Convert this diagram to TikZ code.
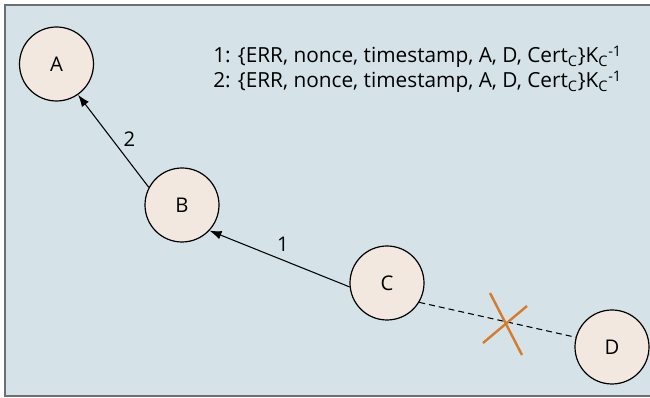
\documentclass[tikz,border=0pt]{standalone}
\usepackage{fontspec}
\setmainfont{Open Sans}
\usetikzlibrary{arrows.meta}
\definecolor{panelbg}{HTML}{D5E3E8}
\definecolor{nodefill}{HTML}{F2E8DF}
\definecolor{framegray}{HTML}{6F6F6F}
\definecolor{crossorange}{HTML}{D47B2C}
\newcommand{\labelfont}{\fontsize{15.2}{18}\selectfont}
\newcommand{\msgfont}{\fontsize{15.6}{18}\selectfont}
\tikzset{
  peer/.style={circle, draw=black, line width=0.9pt, fill=nodefill,
    minimum size=55.5pt, inner sep=0pt, font=\labelfont},
  hop/.style={line width=0.8pt, -{Latex[length=9pt,width=6.5pt]}},
  hoplabel/.style={font=\labelfont, inner sep=0pt},
  brokenlink/.style={line width=0.8pt, dash pattern=on 4.5pt off 3pt},
  cutmark/.style={line width=1.8pt, crossorange},
  msg/.style={anchor=base west, inner sep=0pt, font=\msgfont}
}
\begin{document}
\begin{tikzpicture}[x=0.75pt, y=-0.75pt]
  \useasboundingbox (0,0) rectangle (650,398);
  % panel
  \fill[panelbg] (5,5) rectangle (660,396);
  \draw[framegray, line width=1.4pt] (660,5) -- (5,5) -- (5,396) -- (660,396);

  % peers
  \node[peer] (A) at (56.5,64) {A};
  \node[peer] (B) at (182,205) {B};
  \node[peer] (C) at (387,283) {C};
  \node[peer] (D) at (612,347) {D};

  % forwarded error messages
  \draw[hop] (C.186) -- node[hoplabel, midway, xshift=2.5pt, yshift=11pt] {1} (B.317);
  \draw[hop] (B.152) -- node[hoplabel, midway, xshift=12pt, yshift=1.5pt] {2} (A.305);

  % broken link C--D
  \draw[brokenlink] (C.329) -- (D.165);
  \coordinate (X1) at (490,293);
  \coordinate (X2) at (522,355);
  \coordinate (X3) at (483,343);
  \coordinate (X4) at (527,306);
  \draw[cutmark] (X1) -- (X2);
  \draw[cutmark] (X3) -- (X4);

  % message contents
  \node[msg] (msg1) at (213,63)
    {1: \{ERR, nonce, timestamp, A, D, Cert\textsubscript{C}\}K\textsubscript{C}\textsuperscript{-1}};
  \node[msg] (msg2) at (213,88)
    {2: \{ERR, nonce, timestamp, A, D, Cert\textsubscript{C}\}K\textsubscript{C}\textsuperscript{-1}};
\end{tikzpicture}
\end{document}
